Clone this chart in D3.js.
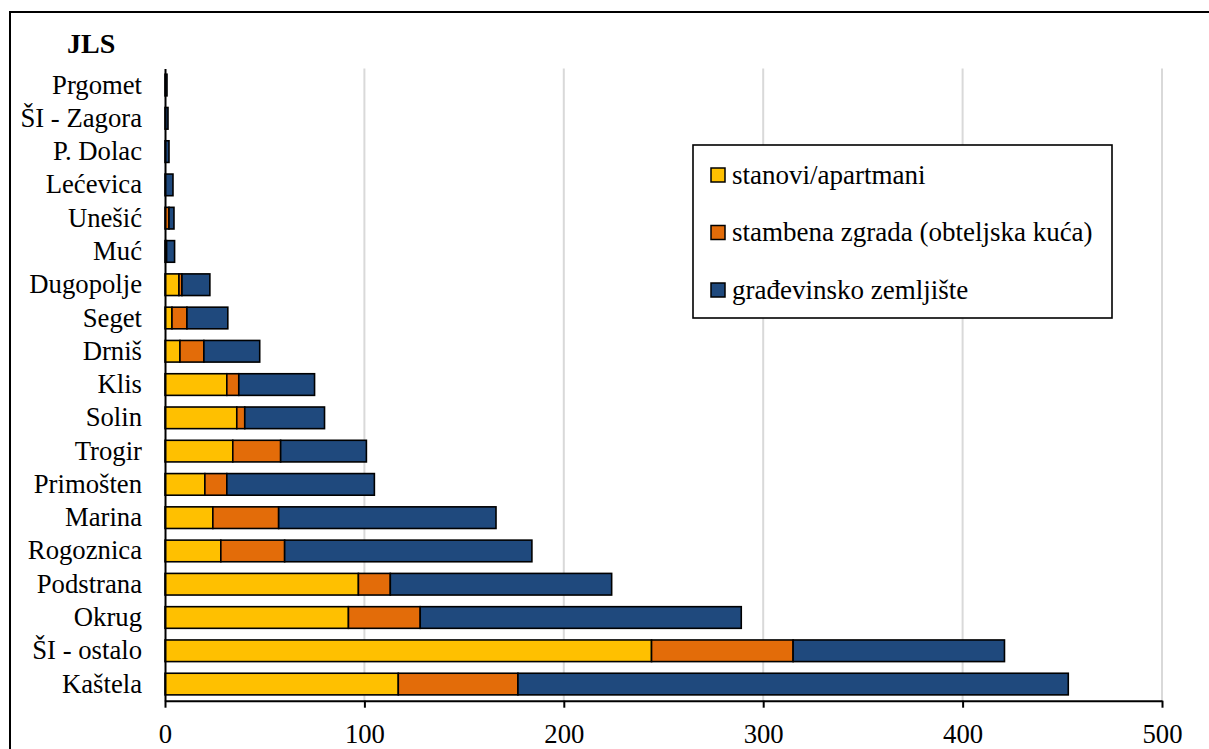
<!DOCTYPE html>
<html>
<head>
<meta charset="utf-8">
<script src="https://cdn.jsdelivr.net/npm/d3@7"></script>
</head>
<body style="margin:0;background:#fff">
<svg id="s" width="1209" height="749" style="display:block"></svg>
<script>
const categories = ["Prgomet","ŠI - Zagora","P. Dolac","Lećevica","Unešić","Muć","Dugopolje","Seget","Drniš","Klis","Solin","Trogir","Primošten","Marina","Rogoznica","Podstrana","Okrug","ŠI - ostalo","Kaštela"];
const stanovi   = [0, 0, 0, 0, 0, 0, 7, 3.5, 7.5, 31, 36, 34, 20, 24, 28, 97, 92, 244, 117];
const stambena  = [0, 0, 0, 0, 2, 0.8, 1.5, 7.5, 12, 6, 4, 24, 11, 33, 32, 16, 36, 71, 60];
const gradjevinsko = [1, 1.5, 2, 4, 2.5, 4, 14, 20.5, 28, 38, 40, 43, 74, 109, 124, 111, 161, 106, 276];
const seriesNames = ["stanovi/apartmani", "stambena zgrada (obteljska kuća)", "građevinsko zemljište"];
const seriesColors = ["#FFC000", "#E36C09", "#1F497D"];
const xTicks = [0, 100, 200, 300, 400, 500];

const FONT = '"Liberation Serif"';
const svg = d3.select("#s");

// outer frame
svg.append("rect").attr("x", 10).attr("y", 12).attr("width", 1260).attr("height", 800)
  .attr("fill", "none").attr("stroke", "#000").attr("stroke-width", 2);

const mLeft = 165, mRight = 1162, mTop = 68.4, mBottom = 700.7;
const x = d3.scaleLinear().domain([0, 500]).range([mLeft, mRight]);
const y = d3.scaleBand().domain(categories).range([mTop, mBottom]).paddingInner(0.35).paddingOuter(0.175);

// gridlines
svg.append("g").selectAll("line").data(xTicks.filter(t => t > 0)).join("line")
  .attr("x1", d => x(d)).attr("x2", d => x(d)).attr("y1", mTop).attr("y2", mBottom)
  .attr("stroke", "#d9d9d9").attr("stroke-width", 2);

const rows = categories.map((c, i) => ({cat: c, s0: stanovi[i], s1: stambena[i], s2: gradjevinsko[i]}));
const stack = d3.stack().keys(["s0", "s1", "s2"])(rows);

svg.append("g").selectAll("g").data(stack).join("g")
  .attr("fill", (d, i) => seriesColors[i])
  .selectAll("rect").data(d => d.filter(v => v[1] - v[0] > 0)).join("rect")
  .attr("x", d => x(d[0])).attr("width", d => x(d[1]) - x(d[0]))
  .attr("y", d => y(d.data.cat)).attr("height", y.bandwidth())
  .attr("stroke", "#000").attr("stroke-width", 1.6);

// y axis
const yAxis = svg.append("g").attr("transform", `translate(${mLeft},0)`)
  .call(d3.axisLeft(y).tickSize(0).tickPadding(23));
yAxis.attr("font-family", null).attr("font-size", null);
yAxis.select(".domain").attr("stroke", "#000").attr("stroke-width", 2);
yAxis.selectAll("text").style("font-family", FONT).attr("font-size", 26.7).attr("fill", "#000");

// x axis
const xAxis = svg.append("g").attr("transform", `translate(0,${mBottom})`)
  .call(d3.axisBottom(x).tickValues(xTicks).tickSize(7).tickPadding(16).tickSizeOuter(0));
xAxis.attr("font-family", null).attr("font-size", null);
xAxis.select(".domain").attr("stroke", "#000").attr("stroke-width", 2);
xAxis.selectAll(".tick line").attr("stroke", "#000").attr("stroke-width", 2);
xAxis.selectAll("text").style("font-family", FONT).attr("font-size", 26.7).attr("fill", "#000");

// JLS title
svg.append("text").attr("x", 67).attr("y", 53).style("font-family", FONT).attr("font-size", 28)
  .attr("font-weight", "bold").text("JLS");

// legend
const lg = svg.append("g");
lg.append("rect").attr("x", 693).attr("y", 145).attr("width", 419).attr("height", 173)
  .attr("fill", "#fff").attr("stroke", "#000").attr("stroke-width", 1.6);
seriesNames.forEach((n, i) => {
  const cy = 175 + i * 57.5;
  lg.append("rect").attr("x", 711).attr("y", cy - 7).attr("width", 14).attr("height", 14)
    .attr("fill", seriesColors[i]).attr("stroke", "#000").attr("stroke-width", 1.5);
  lg.append("text").attr("x", 732).attr("y", cy + 8.5).style("font-family", FONT)
    .attr("font-size", 27).text(n);
});
</script>
</body>
</html>
